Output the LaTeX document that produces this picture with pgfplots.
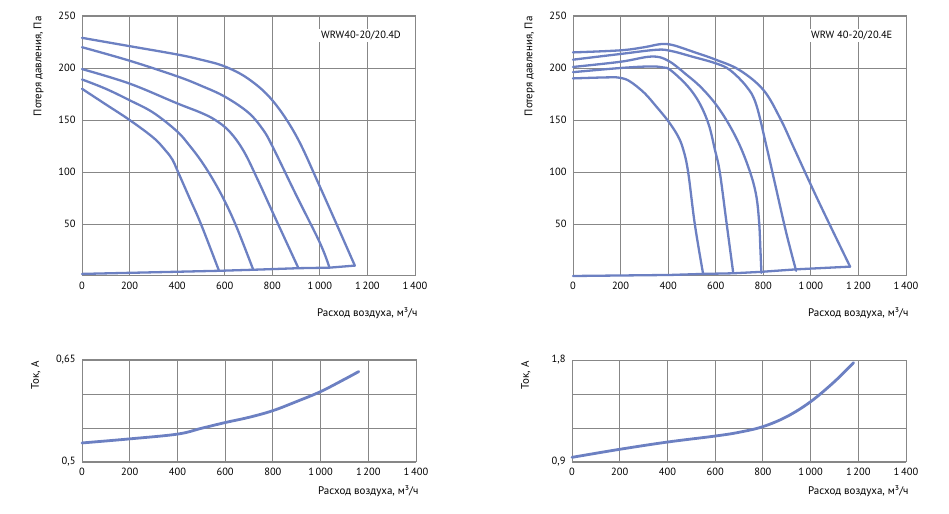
\documentclass[border=0pt]{standalone}
\usepackage{fontspec}
\setmainfont{PT Sans}
\usepackage{pgfplots}
\pgfplotsset{compat=1.18}
\definecolor{curve}{RGB}{108,128,194}
\definecolor{gridc}{RGB}{135,135,135}
\pgfplotsset{
  base/.style={
    scale only axis, anchor=south west,
    xmin=0, xmax=1400, xtick={0,200,...,1400},
    xticklabels={0,200,400,600,800,1\,000,1\,200,1\,400},
    grid=major, major grid style={gridc, line width=0.9bp},
    axis line style={gridc, line width=1bp},
    major tick length=0pt,
    tick label style={font=\fontsize{10.5}{12}\selectfont, text=black},
    xticklabel style={yshift=-3bp},
    yticklabel style={xshift=-3bp},
    label style={font=\fontsize{11}{13}\selectfont},
    every axis plot/.append style={curve, line width=2.3bp, line join=round, line cap=round},
    clip=false,
  },
  top/.style={base, width=333bp, height=260bp, ymin=0, ymax=250,
    ytick={50,100,...,250}, yticklabels={50,100,150,200,250},
    ylabel={Потеря давления, Па},
    ylabel style={at={(axis description cs:-0.105,1.012)}, anchor=south east},
    xlabel={Расход воздуха, м³/ч},
    xlabel style={at={(axis description cs:1.018,-0.142)}, anchor=east},
  },
  bot/.style={base, width=334bp, height=102bp,
    ylabel={Ток, А},
    ylabel style={at={(axis description cs:-0.114,1.02)}, anchor=south east},
    xlabel={Расход воздуха, м³/ч},
    xlabel style={at={(axis description cs:1.018,-0.284)}, anchor=east},
    every axis plot/.append style={line width=2.8bp},
  },
}
\begin{document}
\begin{tikzpicture}
\path[use as bounding box] (0,0) rectangle (949bp,514bp);
% ---------- top left ----------
\begin{axis}[top, at={(82bp,238bp)}]
\addplot[smooth, tension=0.6] coordinates {(0,229) (200,221) (400,213) (500,208) (600,201.5) (700,189.5) (800,169) (900,135) (1000,86) (1147,10)};
\addplot[smooth, tension=0.6] coordinates {(0,220) (200,207) (400,192) (500,183) (600,172.5) (700,157) (760,141) (800,125) (900,78) (1000,32) (1039,9)};
\addplot[smooth, tension=0.6] coordinates {(0,199) (200,185) (400,166) (500,157) (560,150) (620,139) (680,120) (740,92) (804,60) (909,8)};
\addplot[smooth, tension=0.6] coordinates {(0,189) (100,180) (200,169) (300,157) (400,139) (450,126) (500,111) (550,93) (600,72) (650,47) (720,6)};
\addplot[smooth, tension=0.6] coordinates {(0,180) (100,165) (200,150) (300,133) (350,121) (380,112) (400,102) (450,76) (500,50) (576,5)};
\addplot[sharp plot] coordinates {(0,2) (576,5) (720,6) (909,7.5) (1039,8) (1147,10)};
\node[fill=white, inner sep=2bp, font=\fontsize{10.5}{12}\selectfont] at (axis cs:1173,231) {WRW40-20/20.4D};
\end{axis}
% ---------- top right ----------
\begin{axis}[top, at={(573bp,238bp)}]
\addplot[smooth, tension=0.6] coordinates {(0,215) (200,217) (300,220) (370,223) (420,222) (500,216) (600,208) (700,198) (800,179) (870,152) (931,122) (1036,70) (1165,9)};
\addplot[smooth, tension=0.6] coordinates {(0,208) (200,213.5) (350,217.5) (410,216.5) (500,211) (600,204.5) (660,198) (730,182) (770,165) (813,125) (848,90) (896,42) (938,5)};
\addplot[smooth, tension=0.6] coordinates {(0,201) (200,206) (330,211) (400,207) (480,193) (540,181) (604,164) (660,144) (708,122) (750,96) (772,75) (783,50) (788,25) (792,3)};
\addplot[smooth, tension=0.6] coordinates {(0,196) (200,200) (325,201.5) (380,200.5) (410,198) (480,183) (530,167) (570,146) (596,122) (617,100) (645,52) (673,4)};
\addplot[smooth, tension=0.6] coordinates {(0,190) (150,191) (200,190.5) (240,187) (300,176) (350,163) (400,149) (440,135) (463,122) (484,100) (512,50) (547,2)};
\addplot[sharp plot] coordinates {(0,0) (409,1) (547,2) (673,2.6) (792,4) (938,6.4) (1165,9)};
\node[fill=white, inner sep=2bp, font=\fontsize{10.5}{12}\selectfont] at (axis cs:1172,231) {WRW 40-20/20.4E};
\end{axis}
% ---------- bottom left ----------
\begin{axis}[bot, at={(82bp,52bp)}, ymin=0.5, ymax=0.65,
  ytick={0.5,0.55,0.6,0.65}, yticklabels={{0,5},{},{},{0,65}}]
\addplot[smooth, tension=0.6] coordinates {(0,0.528) (200,0.534) (400,0.541) (500,0.5495) (600,0.558) (700,0.5657) (800,0.5755) (900,0.589) (1000,0.6035) (1100,0.6216) (1160,0.633)};
\end{axis}
% ---------- bottom right ----------
\begin{axis}[bot, at={(572bp,52bp)}, ymin=0.9, ymax=1.8,
  ytick={0.9,1.2,1.5,1.8}, yticklabels={{0,9},{},{},{1,8}}]
\addplot[smooth, tension=0.6] coordinates {(0,0.941) (200,1.012) (400,1.076) (600,1.129) (700,1.162) (800,1.212) (900,1.3) (1000,1.432) (1100,1.609) (1180,1.776)};
\end{axis}
\end{tikzpicture}
\end{document}
